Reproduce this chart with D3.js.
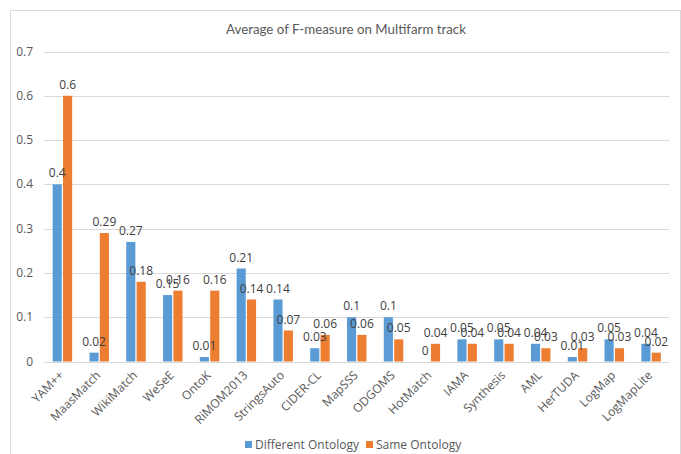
<!DOCTYPE html>
<html>
<head>
<meta charset="utf-8">
<script src="https://cdn.jsdelivr.net/npm/d3@7"></script>
<style>
  body { margin: 0; background: #fff; }
  svg text { font-family: "Open Sans", "Noto Sans", sans-serif; }
  svg text.title { font-family: Lato, "Open Sans", sans-serif; }
</style>
</head>
<body>
<svg width="681" height="454"></svg>
<script>
const matchers = ['YAM++', 'MaasMatch', 'WikiMatch', 'WeSeE', 'OntoK', 'RiMOM2013', 'StringsAuto',
  'CIDER-CL', 'MapSSS', 'ODGOMS', 'HotMatch', 'IAMA', 'Synthesis', 'AML', 'HerTUDA', 'LogMap', 'LogMapLite'];
const differentOntology = [0.4, 0.02, 0.27, 0.15, 0.01, 0.21, 0.14, 0.03, 0.1, 0.1, 0, 0.05, 0.05, 0.04, 0.01, 0.05, 0.04];
const sameOntology = [0.6, 0.29, 0.18, 0.16, 0.16, 0.14, 0.07, 0.06, 0.06, 0.05, 0.04, 0.04, 0.04, 0.03, 0.03, 0.03, 0.02];
const seriesNames = ['Different Ontology', 'Same Ontology'];
const yTicks = [0, 0.1, 0.2, 0.3, 0.4, 0.5, 0.6, 0.7];

const svg = d3.select('svg');
const color = d3.scaleOrdinal(seriesNames, ['#5B9BD5', '#ED7D31']);

// chart frame
svg.append('rect')
  .attr('x', 10.5).attr('y', 10.5)
  .attr('width', 670).attr('height', 460)
  .attr('fill', 'none')
  .attr('stroke', '#d9d9d9');

// title
svg.append('text')
  .attr('class', 'title')
  .attr('x', 346).attr('y', 34)
  .attr('text-anchor', 'middle')
  .attr('font-size', 13.3)
  .attr('fill', '#595959')
  .text('Average of F-measure on Multifarm track');

const x = d3.scaleBand().domain(matchers).range([44, 669.5]);
const x1 = d3.scaleBand().domain(seriesNames).range([0, 19.5]).paddingInner(0.12);
const y = d3.scaleLinear().domain([0, 0.7]).range([361.5, 51.5]);

// gridlines
svg.append('g')
  .selectAll('line')
  .data(yTicks)
  .join('line')
  .attr('x1', 44).attr('x2', 669.5)
  .attr('y1', d => Math.round(y(d)) + 0.5)
  .attr('y2', d => Math.round(y(d)) + 0.5)
  .attr('stroke', '#d9d9d9');

// y tick labels
svg.append('g')
  .selectAll('text')
  .data(yTicks)
  .join('text')
  .attr('x', 33)
  .attr('y', d => y(d) + 4)
  .attr('text-anchor', 'end')
  .attr('font-size', 12)
  .attr('fill', '#595959')
  .text(d => d);

const rows = matchers.map((m, i) => ({
  name: m,
  values: [differentOntology[i], sameOntology[i]]
}));
const cells = rows.flatMap(r => r.values.map((v, i) => ({ name: r.name, key: seriesNames[i], value: v })));
const barX = d => x(d.name) + (x.bandwidth() - 19.5) / 2 + x1(d.key);

svg.append('g')
  .selectAll('rect')
  .data(cells)
  .join('rect')
  .attr('x', barX)
  .attr('y', d => y(d.value))
  .attr('width', x1.bandwidth())
  .attr('height', d => y(0) - y(d.value))
  .attr('fill', d => color(d.key));

//labels above bars, drawn after all bars
svg.append('g')
  .selectAll('text')
  .data(cells)
  .join('text')
  .attr('x', d => barX(d) + x1.bandwidth() / 2)
  .attr('y', d => y(d.value) - 7)
  .attr('text-anchor', 'middle')
  .attr('font-size', 12)
  .attr('fill', '#404040')
  .text(d => d.value);

// category labels
svg.append('g')
  .selectAll('text')
  .data(matchers)
  .join('text')
  .attr('transform', d => `translate(${x(d) + x.bandwidth() / 2 + 2},376) rotate(-45)`)
  .attr('text-anchor', 'end')
  .attr('font-size', 12)
  .attr('fill', '#595959')
  .text(d => d);

// legend
const legend = svg.append('g')
  .selectAll('g')
  .data(seriesNames)
  .join('g')
  .attr('transform', (d, i) => `translate(${[245, 366][i]},441)`);

legend.append('rect')
  .attr('width', 7).attr('height', 7)
  .attr('fill', d => color(d));

legend.append('text')
  .attr('x', 10).attr('y', 8)
  .attr('font-size', 12)
  .attr('fill', '#595959')
  .text(d => d);
</script>
</body>
</html>
